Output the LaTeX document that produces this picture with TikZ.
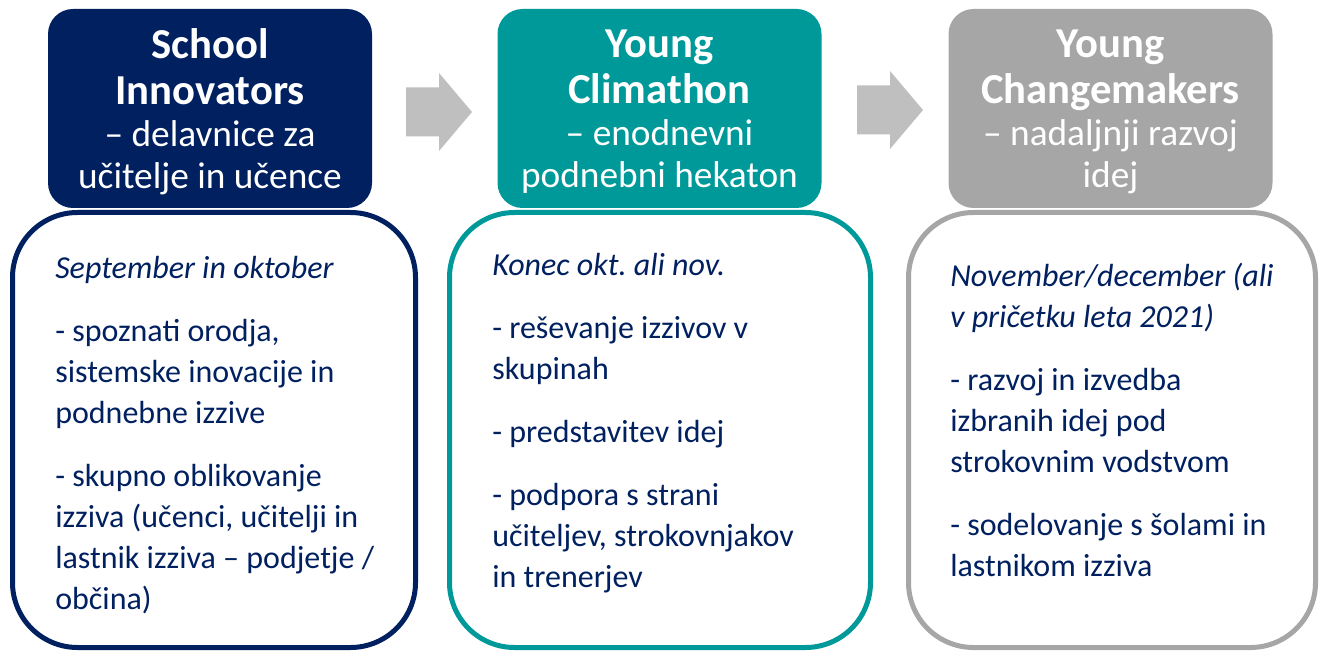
\documentclass[tikz,border=0pt]{standalone}
\usepackage{fontspec}
\setmainfont{Carlito}
\usepackage{xcolor}
\usepackage{tikz}
\usetikzlibrary{positioning,calc}
\definecolor{innonavy}{HTML}{002060}
\definecolor{climteal}{HTML}{009999}
\definecolor{changegray}{HTML}{A6A6A6}
\definecolor{arrowgray}{HTML}{BFBFBF}
\newcommand{\phasetitle}[1]{{\fontsize{32}{34.5}\selectfont\bfseries #1}}
\frenchspacing

\begin{document}
\begin{tikzpicture}[x=0.75pt, y=-0.75pt,
    headbox/.style={rectangle, rounded corners=18.75pt, minimum width=243pt, minimum height=149.25pt, inner sep=0pt, text=white, align=center, font=\fontsize{28}{31.5}\selectfont},
    framebox/.style={rectangle, rounded corners=48.75pt, line width=3.75pt, fill=white, minimum height=326.25pt, inner sep=0pt},
    bodytext/.style={anchor=base west, inner sep=0pt, align=left, text=innonavy, font=\fontsize{24}{30.75}\selectfont},
    blockarrow/.pic={\fill[arrowgray] (-33,-24.5) -- (0,-24.5) -- (0,-39) -- (33,0) -- (0,39) -- (0,24.5) -- (-33,24.5) -- cycle;}]
    \useasboundingbox (0,0) rectangle (1319,652);

    \node [framebox, draw=innonavy, minimum width=302.25pt] (frame1) at (214,430) {};
    \node [framebox, draw=climteal, minimum width=315.75pt] (frame2) at (660,430) {};
    \node [framebox, draw=changegray, minimum width=305.25pt] (frame3) at (1112,430) {};

    \node [headbox, fill=innonavy] (head1) at (210,108.5) {};
    \node [headbox, fill=climteal] (head2) at (659.5,108.5) {};
    \node [headbox, fill=changegray] (head3) at (1110.5,108.5) {};
    \node [headbox, fill=none] (title1) at (210,111.5) {\phasetitle{School}\\[3pt]\phasetitle{Innovators}\\– delavnice za\\učitelje in učence};
    \node [headbox, fill=none] (title2) at (659.5,111.5) {\phasetitle{Young}\\[3pt]\phasetitle{Climathon}\\– enodnevni\\podnebni hekaton};
    \node [headbox, fill=none] (title3) at (1110.5,111.5) {\phasetitle{Young}\\[3pt]\phasetitle{Changemakers}\\– nadaljnji razvoj\\idej};

    \pic at (439,112) {blockarrow};
    \pic at (890,110) {blockarrow};

    % base anchor sits on the last line
    \node [bodytext] (text1) at (55,609) {\textit{September in oktober}\\[16.5pt]
        - spoznati orodja,\\sistemske inovacije in\\podnebne izzive\\[16.5pt]
        - skupno oblikovanje\\izziva (učenci, učitelji in\\lastnik izziva – podjetje /\\občina)};
    \node [bodytext] (text2) at (492,587) {\textit{Konec okt. ali nov.}\\[16.5pt]
        - reševanje izzivov v\\skupinah\\[16.5pt]
        - predstavitev idej\\[16.5pt]
        - podpora s strani\\učiteljev, strokovnjakov\\in trenerjev};
    \node [bodytext] (text3) at (950,576) {\textit{November/december (ali}\\\textit{v pričetku leta 2021)}\\[16.5pt]
        - razvoj in izvedba\\izbranih idej pod\\strokovnim vodstvom\\[16.5pt]
        - sodelovanje s šolami in\\lastnikom izziva};
\end{tikzpicture}
\end{document}
